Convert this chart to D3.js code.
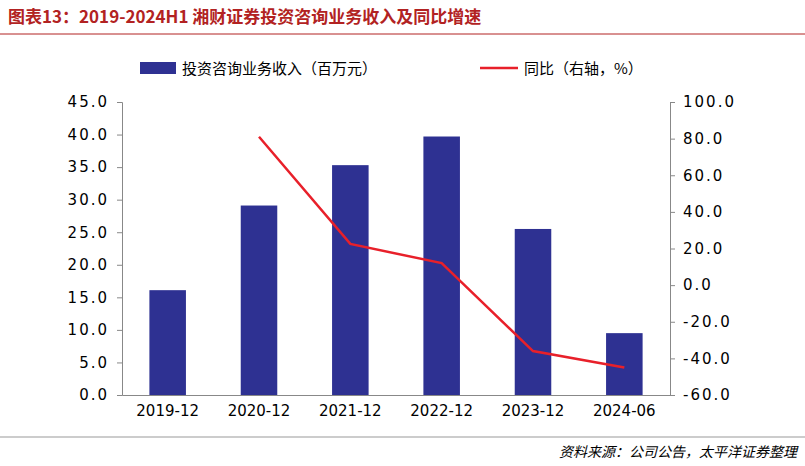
<!DOCTYPE html>
<html>
<head>
<meta charset="utf-8">
<script src="https://d3js.org/d3.v7.min.js"></script>
<style>
body { margin: 0; background: #fff; }
svg { font-family: "Noto Sans CJK SC", "DejaVu Sans", sans-serif; }
</style>
</head>
<body>
<div id="chart"></div>
<script>
const categories = ['2019-12', '2020-12', '2021-12', '2022-12', '2023-12', '2024-06'];
const revenue = [16.1, 29.1, 35.3, 39.7, 25.5, 9.5];
const yoy = [null, 81.0, 22.5, 12.0, -36.0, -45.0];
const leftTicks = d3.range(0, 46, 5);
const rightTicks = d3.range(-60, 101, 20);

const W = 805, H = 466;
const margin = { top: 102, right: 135, bottom: 71, left: 122 };
const svg = d3.select('#chart').append('svg').attr('width', W).attr('height', H);

svg.append('text').attr('x', 8).attr('y', 23).attr('font-size', 17).attr('font-weight', 'bold')
    .attr('fill', '#b22222').text('图表13：2019-2024H1 湘财证券投资咨询业务收入及同比增速');
svg.append('line').attr('x1', 0).attr('x2', W).attr('y1', 34).attr('y2', 34)
    .attr('stroke', '#b22222').attr('stroke-width', 1);

const x = d3.scaleBand().domain(categories).range([margin.left, W - margin.right]).paddingInner(0.6).paddingOuter(0.3);
const yL = d3.scaleLinear().domain([0, 45]).range([H - margin.bottom, margin.top]);
const yR = d3.scaleLinear().domain([-60, 100]).range([H - margin.bottom, margin.top]);

svg.selectAll('.bar').data(revenue).join('rect')
    .attr('x', (d, i) => x(categories[i]))
    .attr('y', d => yL(d))
    .attr('width', x.bandwidth())
    .attr('height', d => yL(0) - yL(d))
    .attr('fill', '#2e3192');

const pts = categories.map((c, i) => ({ c, v: yoy[i] })).filter(d => d.v !== null);
svg.append('path').datum(pts)
    .attr('fill', 'none').attr('stroke', '#e8202a').attr('stroke-width', 2.5)
    .attr('d', d3.line().x(d => x(d.c) + x.bandwidth() / 2).y(d => yR(d.v)));

const fmt = d => d.toFixed(1).split('').join(' ').replace('- ', '-').replace(' . ', '. ');
const tickFmt = d => d.toFixed(1);

const ax = svg.append('g').attr('transform', `translate(0,${yL(0)})`)
    .call(d3.axisBottom(x).tickSize(0).tickPadding(10));
ax.select('.domain').attr('stroke', '#888');
ax.selectAll('text').attr('font-size', 15).attr('fill', '#000').attr('font-family', '"DejaVu Sans", sans-serif');

const al = svg.append('g').attr('transform', `translate(${margin.left},0)`)
    .call(d3.axisLeft(yL).tickValues(leftTicks).tickFormat(tickFmt).tickSize(5).tickPadding(8));
const ar = svg.append('g').attr('transform', `translate(${W - margin.right},0)`)
    .call(d3.axisRight(yR).tickValues(rightTicks).tickFormat(tickFmt).tickSize(5).tickPadding(8));
[al, ar].forEach(g => {
    g.select('.domain').attr('stroke', '#888');
    g.selectAll('line').attr('stroke', '#888');
    g.selectAll('text').attr('font-size', 15).attr('fill', '#000').attr('letter-spacing', 2)
        .attr('font-family', '"DejaVu Sans", sans-serif');
});

const lg = svg.append('g').attr('font-size', 15);
lg.append('rect').attr('x', 140).attr('y', 62).attr('width', 36).attr('height', 12).attr('fill', '#2e3192');
lg.append('text').attr('x', 182).attr('y', 74).text('投资咨询业务收入（百万元）');
lg.append('line').attr('x1', 480).attr('x2', 518).attr('y1', 68).attr('y2', 68).attr('stroke', '#e8202a').attr('stroke-width', 2.5);
lg.append('text').attr('x', 524).attr('y', 74).text('同比（右轴，%）');

svg.append('line').attr('x1', 0).attr('x2', W).attr('y1', 437).attr('y2', 437).attr('stroke', '#999').attr('stroke-width', 1);
svg.append('text').attr('x', W - 8).attr('y', 457).attr('text-anchor', 'end').attr('font-size', 14)
    .attr('font-style', 'italic').text('资料来源：公司公告，太平洋证券整理');
</script>
</body>
</html>
